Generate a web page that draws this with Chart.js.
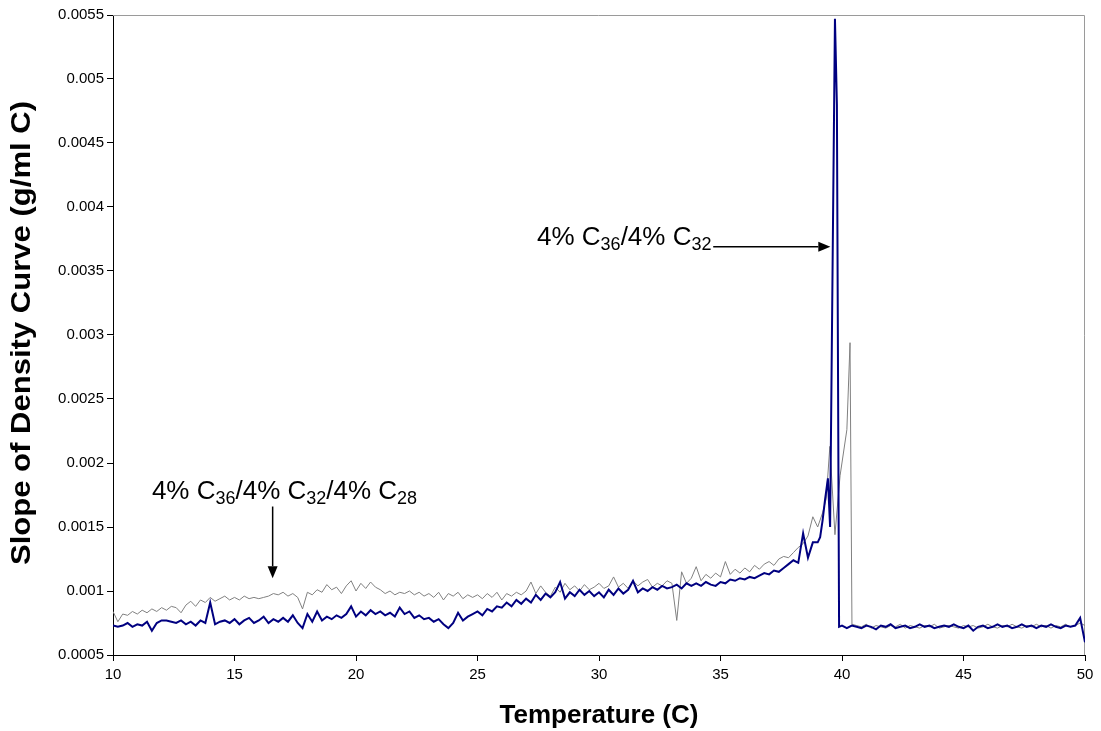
<!DOCTYPE html>
<html>
<head>
<meta charset="utf-8">
<title>Slope of Density Curve</title>
<script src="https://cdn.jsdelivr.net/npm/chart.js@4.4.1/dist/chart.umd.min.js"></script>
<style>
    html, body { margin: 0; padding: 0; background: #fff; }
    #wrap { width: 1101px; height: 731px; position: relative; }
</style>
</head>
<body>
<div id="wrap"><canvas id="densityChart"></canvas></div>
<script>
// Temperatures (C) for the noisy part of both curves
const gridTemps = [
    10.0, 10.2, 10.4, 10.6, 10.8, 11.0, 11.2, 11.4, 11.6, 11.8,
    12.0, 12.2, 12.4, 12.6, 12.8, 13.0, 13.2, 13.4, 13.6, 13.8,
    14.0, 14.2, 14.4, 14.6, 14.8, 15.0, 15.2, 15.4, 15.6, 15.8,
    16.0, 16.2, 16.4, 16.6, 16.8, 17.0, 17.2, 17.4, 17.6, 17.8,
    18.0, 18.2, 18.4, 18.6, 18.8, 19.0, 19.2, 19.4, 19.6, 19.8,
    20.0, 20.2, 20.4, 20.6, 20.8, 21.0, 21.2, 21.4, 21.6, 21.8,
    22.0, 22.2, 22.4, 22.6, 22.8, 23.0, 23.2, 23.4, 23.6, 23.8,
    24.0, 24.2, 24.4, 24.6, 24.8, 25.0, 25.2, 25.4, 25.6, 25.8,
    26.0, 26.2, 26.4, 26.6, 26.8, 27.0, 27.2, 27.4, 27.6, 27.8,
    28.0, 28.2, 28.4, 28.6, 28.8, 29.0, 29.2, 29.4, 29.6, 29.8,
    30.0, 30.2, 30.4, 30.6, 30.8, 31.0, 31.2, 31.4, 31.6, 31.8,
    32.0, 32.2, 32.4, 32.6, 32.8, 33.0, 33.2, 33.4, 33.6, 33.8,
    34.0, 34.2, 34.4, 34.6, 34.8, 35.0, 35.2, 35.4, 35.6, 35.8,
    36.0, 36.2, 36.4, 36.6, 36.8, 37.0, 37.2, 37.4, 37.6, 37.8,
    38.0, 38.2, 38.4, 38.6, 38.8
];

// 4% C36/4% C32 (navy)
const navyGrid = [
    0.00073, 0.00072, 0.00073, 0.00075, 0.00072, 0.00074, 0.00073, 0.00076, 0.00069, 0.00075,
    0.00077, 0.00077, 0.00076, 0.00075, 0.00077, 0.00074, 0.00076, 0.00073, 0.00077, 0.00075,
    0.00091, 0.00074, 0.00076, 0.00077, 0.00075, 0.00078, 0.00074, 0.00077, 0.00079, 0.00075,
    0.00077, 0.00080, 0.00075, 0.00078, 0.00076, 0.00079, 0.00076, 0.00081, 0.00075, 0.00071,
    0.00082, 0.00076, 0.00084, 0.00077, 0.00080, 0.00078, 0.00081, 0.00079, 0.00082, 0.00088,
    0.00080, 0.00084, 0.00081, 0.00085, 0.00082, 0.00084, 0.00081, 0.00083, 0.00080, 0.00087,
    0.00082, 0.00084, 0.00079, 0.00081, 0.00078, 0.00079, 0.00076, 0.00078, 0.00074, 0.00071,
    0.00075, 0.00083, 0.00077, 0.00080, 0.00082, 0.00084, 0.00081, 0.00086, 0.00084, 0.00088,
    0.00087, 0.00091, 0.00088, 0.00093, 0.00090, 0.00094, 0.00091, 0.00097, 0.00093, 0.00098,
    0.00095, 0.00099, 0.00107, 0.00094, 0.00099, 0.00096, 0.00101, 0.00097, 0.00100, 0.00096,
    0.00099, 0.00095, 0.00101, 0.00097, 0.00102, 0.00098, 0.00101, 0.00108, 0.00099, 0.00102,
    0.00100, 0.00103, 0.00101, 0.00104, 0.00102, 0.00103, 0.00105, 0.00102, 0.00106, 0.00104,
    0.00106, 0.00104, 0.00107, 0.00105, 0.00104, 0.00107, 0.00106, 0.00109, 0.00108, 0.00110,
    0.00109, 0.00111, 0.00110, 0.00112, 0.00114, 0.00113, 0.00116, 0.00115, 0.00118, 0.00121,
    0.00124, 0.00122, 0.00145, 0.00126, 0.00138
];
const navySpikeTemps = [39.0, 39.1, 39.2, 39.3, 39.42, 39.51, 39.71, 39.79, 39.88, 40.0, 40.2, 40.4];
const navySpike = [0.00138, 0.00142, 0.00155, 0.00171, 0.00188, 0.00150, 0.00547, 0.00480, 0.00072, 0.00073, 0.00071, 0.00073];

// 4% C36/4% C32/4% C28 (gray)
const grayGrid = [
    0.00084, 0.00076, 0.00082, 0.00081, 0.00084, 0.00082, 0.00085, 0.00083, 0.00086, 0.00084,
    0.00087, 0.00085, 0.00088, 0.00087, 0.00083, 0.00089, 0.00092, 0.00088, 0.00093, 0.00091,
    0.00095, 0.00092, 0.00094, 0.00096, 0.00093, 0.00095, 0.00093, 0.00096, 0.00094, 0.00095,
    0.00094, 0.00095, 0.00096, 0.00098, 0.00097, 0.00099, 0.00096, 0.00098, 0.00095, 0.00086,
    0.00099, 0.00097, 0.00101, 0.00099, 0.00105, 0.00101, 0.00103, 0.00098, 0.00104, 0.00108,
    0.00100, 0.00106, 0.00102, 0.00107, 0.00103, 0.00101, 0.00098, 0.00100, 0.00097, 0.00099,
    0.00098, 0.00100, 0.00097, 0.00099, 0.00096, 0.00098, 0.00095, 0.00099, 0.00093, 0.00098,
    0.00096, 0.00099, 0.00094, 0.00097, 0.00095, 0.00097, 0.00094, 0.00098, 0.00095, 0.00099,
    0.00093, 0.00098, 0.00096, 0.00099, 0.00097, 0.00100, 0.00107, 0.00098, 0.00104, 0.00099,
    0.00096, 0.00103, 0.00099, 0.00106, 0.00101, 0.00104, 0.00100, 0.00105, 0.00101, 0.00103,
    0.00106, 0.00102, 0.00104, 0.00111, 0.00103, 0.00106, 0.00102, 0.00108, 0.00104, 0.00107,
    0.00109, 0.00103, 0.00106, 0.00104, 0.00108, 0.00106, 0.00077, 0.00115, 0.00106, 0.00110,
    0.00119, 0.00108, 0.00113, 0.00110, 0.00114, 0.00111, 0.00123, 0.00113, 0.00117, 0.00114,
    0.00118, 0.00115, 0.00120, 0.00117, 0.00121, 0.00123, 0.00120, 0.00125, 0.00127, 0.00126,
    0.00130, 0.00134, 0.00137, 0.00143, 0.00158
];
const graySpikeTemps = [39.0, 39.2, 39.35, 39.5, 39.71, 39.92, 40.2, 40.33, 40.41];
const graySpike = [0.00150, 0.00161, 0.00172, 0.00213, 0.00144, 0.00190, 0.00226, 0.00294, 0.00074];

// Flat part after the transition
const tailTemps = [
    40.6, 40.8, 41.0, 41.2, 41.4, 41.6, 41.8, 42.0, 42.2, 42.4,
    42.6, 42.8, 43.0, 43.2, 43.4, 43.6, 43.8, 44.0, 44.2, 44.4,
    44.6, 44.8, 45.0, 45.2, 45.4, 45.6, 45.8, 46.0, 46.2, 46.4,
    46.6, 46.8, 47.0, 47.2, 47.4, 47.6, 47.8, 48.0, 48.2, 48.4,
    48.6, 48.8, 49.0, 49.2, 49.4, 49.6, 49.8, 50.0
];
const navyTail = [
    0.00072, 0.00071, 0.00073, 0.00072, 0.00070, 0.00073, 0.00072, 0.00074, 0.00071, 0.00072,
    0.00073, 0.00071, 0.00072, 0.00074, 0.00072, 0.00073, 0.00071, 0.00072, 0.00073, 0.00072,
    0.00074, 0.00072, 0.00071, 0.00073, 0.00069, 0.00072, 0.00073, 0.00071, 0.00072, 0.00074,
    0.00072, 0.00073, 0.00071, 0.00072, 0.00074, 0.00072, 0.00073, 0.00071, 0.00073, 0.00072,
    0.00074, 0.00072, 0.00071, 0.00073, 0.00072, 0.00073, 0.00079, 0.00060
];
const grayTail = [
    0.00073, 0.00072, 0.00074, 0.00071, 0.00073, 0.00072, 0.00071, 0.00073, 0.00072, 0.00074,
    0.00071, 0.00073, 0.00072, 0.00071, 0.00073, 0.00072, 0.00074, 0.00071, 0.00072, 0.00073,
    0.00072, 0.00071, 0.00073, 0.00072, 0.00073, 0.00071, 0.00072, 0.00074, 0.00072, 0.00071,
    0.00073, 0.00072, 0.00074, 0.00072, 0.00071, 0.00073, 0.00072, 0.00074, 0.00072, 0.00073,
    0.00071, 0.00073, 0.00072, 0.00074, 0.00072, 0.00073, 0.00075, 0.00073
];

// Axis ticks
const xTicks = [10, 15, 20, 25, 30, 35, 40, 45, 50];
const yTicks = [0.0005, 0.001, 0.0015, 0.002, 0.0025, 0.003, 0.0035, 0.004, 0.0045, 0.005, 0.0055];
const yTickLabels = ['0.0005', '0.001', '0.0015', '0.002', '0.0025', '0.003', '0.0035', '0.004', '0.0045', '0.005', '0.0055'];
const yTitle = 'Slope of Density Curve (g/ml C)';

function zip(xs, ys) {
    return xs.map((x, i) => ({ x: x, y: ys[i] }));
}

const navyData = zip(gridTemps, navyGrid).concat(zip(navySpikeTemps, navySpike), zip(tailTemps, navyTail));
const grayData = zip(gridTemps, grayGrid).concat(zip(graySpikeTemps, graySpike), zip(tailTemps, grayTail));

const FONT = '"Liberation Sans", Arial, sans-serif';

// Callout labels with subscripts, anchored in data units
const callouts = [
    {
        parts: [['4% C', false], ['36', true], ['/4% C', false], ['32', true], ['/4% C', false], ['28', true]],
        at: { x: 11.6, y: 0.00172 },
        arrow: { from: { x: 16.57, y: 0.00166 }, to: { x: 16.57, y: 0.0011 } }
    },
    {
        parts: [['4% C', false], ['36', true], ['/4% C', false], ['32', true]],
        at: { x: 27.45, y: 0.0037 },
        arrow: { from: { x: 34.7, y: 0.00369 }, to: { x: 39.52, y: 0.00369 } }
    }
];

const calloutPlugin = {
    id: 'callouts',
    beforeDatasetsDraw(chart) {
        // light frame on top and right of the plot area
        const { ctx, chartArea: a } = chart;
        ctx.save();
        ctx.strokeStyle = '#9a9a9a';
        ctx.lineWidth = 1;
        ctx.beginPath();
        ctx.moveTo(a.left, a.top + 0.5);
        ctx.lineTo(a.right - 0.5, a.top + 0.5);
        ctx.lineTo(a.right - 0.5, a.bottom);
        ctx.stroke();
        ctx.restore();
    },
    afterDatasetsDraw(chart) {
        const { ctx, scales, chartArea: a } = chart;
        const px = v => scales.x.getPixelForValue(v);
        const py = v => scales.y.getPixelForValue(v);
        ctx.save();
        ctx.fillStyle = '#000';
        ctx.strokeStyle = '#000';
        ctx.textBaseline = 'alphabetic';
        callouts.forEach(c => {
            let x = px(c.at.x);
            const y = py(c.at.y);
            c.parts.forEach(([txt, sub]) => {
                ctx.font = (sub ? '18px ' : '26px ') + FONT;
                ctx.fillText(txt, x, sub ? y + 5 : y);
                x += ctx.measureText(txt).width;
            });
            const x1 = px(c.arrow.from.x), y1 = py(c.arrow.from.y);
            const x2 = px(c.arrow.to.x), y2 = py(c.arrow.to.y);
            const ang = Math.atan2(y2 - y1, x2 - x1);
            const len = 12, half = 5;
            ctx.lineWidth = 1.5;
            ctx.beginPath();
            ctx.moveTo(x1, y1);
            ctx.lineTo(x2 - Math.cos(ang) * len, y2 - Math.sin(ang) * len);
            ctx.stroke();
            ctx.beginPath();
            ctx.moveTo(x2, y2);
            ctx.lineTo(x2 - Math.cos(ang) * len - Math.sin(ang) * half, y2 - Math.sin(ang) * len + Math.cos(ang) * half);
            ctx.lineTo(x2 - Math.cos(ang) * len + Math.sin(ang) * half, y2 - Math.sin(ang) * len - Math.cos(ang) * half);
            ctx.closePath();
            ctx.fill();
        });

        // y axis title, drawn by hand so it can be stretched along its length
        ctx.translate(23, (a.top + a.bottom) / 2 - 2);
        ctx.rotate(-Math.PI / 2);
        ctx.scale(1.15, 1);
        ctx.font = 'bold 27px ' + FONT;
        ctx.textAlign = 'center';
        ctx.textBaseline = 'middle';
        ctx.fillText(yTitle, 0, 0);
        ctx.restore();
    }
};

const ctx = document.getElementById('densityChart').getContext('2d');
const densityChart = new Chart(ctx, {
    type: 'line',
    data: {
        datasets: [
            {
                label: '4% C36/4% C32',
                data: navyData,
                borderColor: '#000080',
                borderWidth: 2,
                pointRadius: 0,
                tension: 0,
                fill: false
            },
            {
                label: '4% C36/4% C32/4% C28',
                data: grayData,
                borderColor: '#808080',
                borderWidth: 1,
                pointRadius: 0,
                tension: 0,
                fill: false
            }
        ]
    },
    options: {
        responsive: true,
        maintainAspectRatio: false,
        animation: false,
        layout: { padding: { top: 15, right: 16, left: 0, bottom: 0 } },
        plugins: {
            legend: { display: false },
            tooltip: { enabled: false }
        },
        scales: {
            x: {
                type: 'linear',
                min: 10,
                max: 50,
                afterBuildTicks: axis => { axis.ticks = xTicks.map(v => ({ value: v })); },
                afterFit: axis => { axis.height = 76; },
                ticks: {
                    color: '#000',
                    font: { family: FONT, size: 15 },
                    padding: 5,
                    maxRotation: 0
                },
                grid: { drawOnChartArea: false, drawTicks: true, tickLength: 6, color: '#000' },
                border: { color: '#000', width: 1 },
                title: {
                    display: true,
                    text: 'Temperature (C)',
                    color: '#000',
                    font: { family: FONT, size: 26, weight: 'bold' },
                    padding: { top: 0, bottom: 0 }
                }
            },
            y: {
                type: 'linear',
                min: 0.0005,
                max: 0.0055,
                afterBuildTicks: axis => { axis.ticks = yTicks.map(v => ({ value: v })); },
                afterFit: axis => { axis.width = 113; },
                ticks: {
                    color: '#000',
                    font: { family: FONT, size: 15 },
                    padding: 3,
                    callback: (value, index) => yTickLabels[index]
                },
                grid: { drawOnChartArea: false, drawTicks: true, tickLength: 6, color: '#000' },
                border: { color: '#000', width: 1 },
                title: { display: false }
            }
        }
    },
    plugins: [calloutPlugin]
});
</script>
</body>
</html>
